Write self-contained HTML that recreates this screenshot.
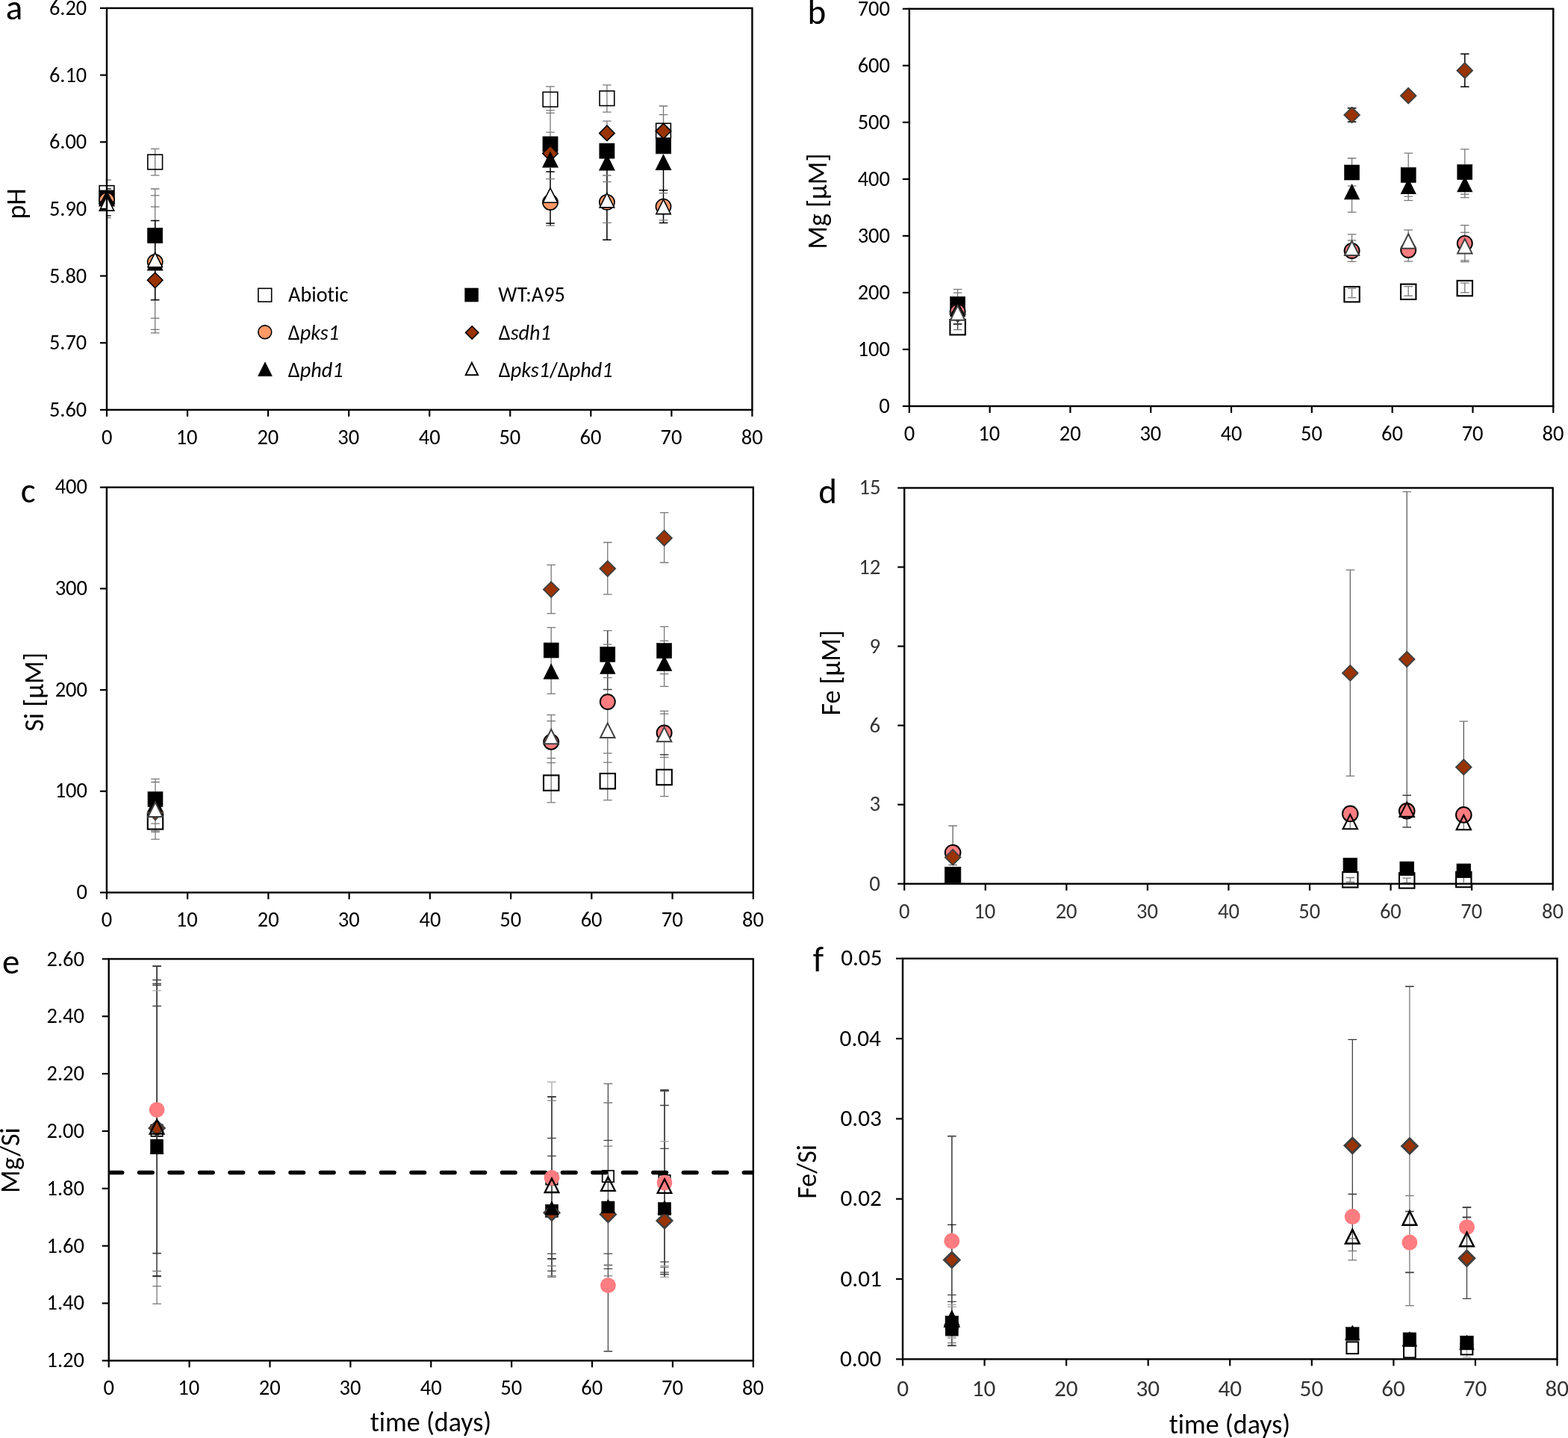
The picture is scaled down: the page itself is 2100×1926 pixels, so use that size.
<!DOCTYPE html>
<html><head><meta charset="utf-8"><title>Figure</title>
<style>html,body{margin:0;padding:0;background:#fff;}svg{display:block;}
text{font-family:Carlito, 'Liberation Sans', Arial, sans-serif;font-variant-ligatures:none;font-feature-settings:'liga' 0,'clig' 0;}</style></head>
<body><svg width="2100" height="1926" viewBox="0 0 2100 1926">
<rect width="2100" height="1926" fill="#fff"/>
<clipPath id="clipa"><rect x="143" y="10.9" width="864.4" height="538"/></clipPath>
<g clip-path="url(#clipa)" stroke-linecap="butt">
<line x1="137.2" y1="241" x2="148.8" y2="241" stroke="#787878" stroke-width="1.3" />
<line x1="137.2" y1="252.9" x2="148.8" y2="252.9" stroke="#000" stroke-width="1.3" />
<line x1="137.2" y1="288.9" x2="148.8" y2="288.9" stroke="#000" stroke-width="1.3" />
<line x1="137.2" y1="291.7" x2="148.8" y2="291.7" stroke="#787878" stroke-width="1.3" />
<line x1="207.7" y1="199.4" x2="207.7" y2="234.8" stroke="#787878" stroke-width="1.3" />
<line x1="207.7" y1="253" x2="207.7" y2="445.9" stroke="#787878" stroke-width="1.3" />
<line x1="207.7" y1="295.5" x2="207.7" y2="401.7" stroke="#000" stroke-width="1.5" />
<line x1="201.9" y1="199.4" x2="213.5" y2="199.4" stroke="#787878" stroke-width="1.3" />
<line x1="201.9" y1="234.8" x2="213.5" y2="234.8" stroke="#787878" stroke-width="1.3" />
<line x1="201.9" y1="253" x2="213.5" y2="253" stroke="#787878" stroke-width="1.3" />
<line x1="201.9" y1="261.8" x2="213.5" y2="261.8" stroke="#787878" stroke-width="1.3" />
<line x1="201.9" y1="277" x2="213.5" y2="277" stroke="#787878" stroke-width="1.3" />
<line x1="201.9" y1="426.2" x2="213.5" y2="426.2" stroke="#787878" stroke-width="1.3" />
<line x1="201.9" y1="441.4" x2="213.5" y2="441.4" stroke="#787878" stroke-width="1.3" />
<line x1="201.9" y1="445.9" x2="213.5" y2="445.9" stroke="#787878" stroke-width="1.3" />
<line x1="201.9" y1="295.5" x2="213.5" y2="295.5" stroke="#000" stroke-width="1.5" />
<line x1="201.9" y1="401.7" x2="213.5" y2="401.7" stroke="#000" stroke-width="1.5" />
<line x1="737" y1="115.8" x2="737" y2="185" stroke="#787878" stroke-width="1.3" />
<line x1="737" y1="224.8" x2="737" y2="302.2" stroke="#000" stroke-width="1.5" />
<line x1="731.2" y1="115.8" x2="742.8" y2="115.8" stroke="#787878" stroke-width="1.3" />
<line x1="731.2" y1="147.9" x2="742.8" y2="147.9" stroke="#787878" stroke-width="1.3" />
<line x1="731.2" y1="151.4" x2="742.8" y2="151.4" stroke="#787878" stroke-width="1.3" />
<line x1="731.2" y1="177.1" x2="742.8" y2="177.1" stroke="#787878" stroke-width="1.3" />
<line x1="731.2" y1="302.2" x2="742.8" y2="302.2" stroke="#787878" stroke-width="1.3" />
<line x1="731.2" y1="230" x2="742.8" y2="230" stroke="#000" stroke-width="1.5" />
<line x1="731.2" y1="239.7" x2="742.8" y2="239.7" stroke="#787878" stroke-width="1.3" />
<line x1="731.2" y1="299.1" x2="742.8" y2="299.1" stroke="#000" stroke-width="1.5" />
<line x1="812.9" y1="113.9" x2="812.9" y2="150.1" stroke="#787878" stroke-width="1.3" />
<line x1="812.9" y1="162.2" x2="812.9" y2="172" stroke="#787878" stroke-width="1.3" />
<line x1="812.9" y1="227.9" x2="812.9" y2="321.3" stroke="#000" stroke-width="1.5" />
<line x1="807.1" y1="113.9" x2="818.7" y2="113.9" stroke="#787878" stroke-width="1.3" />
<line x1="807.1" y1="150.1" x2="818.7" y2="150.1" stroke="#787878" stroke-width="1.3" />
<line x1="807.1" y1="162.2" x2="818.7" y2="162.2" stroke="#787878" stroke-width="1.3" />
<line x1="807.1" y1="235" x2="818.7" y2="235" stroke="#787878" stroke-width="1.3" />
<line x1="807.1" y1="243.7" x2="818.7" y2="243.7" stroke="#787878" stroke-width="1.3" />
<line x1="807.1" y1="298.4" x2="818.7" y2="298.4" stroke="#787878" stroke-width="1.3" />
<line x1="807.1" y1="321.3" x2="818.7" y2="321.3" stroke="#000" stroke-width="1.5" />
<line x1="888.5" y1="142" x2="888.5" y2="166" stroke="#787878" stroke-width="1.3" />
<line x1="888.5" y1="227.9" x2="888.5" y2="298.4" stroke="#000" stroke-width="1.5" />
<line x1="882.7" y1="142" x2="894.3" y2="142" stroke="#787878" stroke-width="1.3" />
<line x1="882.7" y1="153.7" x2="894.3" y2="153.7" stroke="#787878" stroke-width="1.3" />
<line x1="882.7" y1="258.6" x2="894.3" y2="258.6" stroke="#787878" stroke-width="1.3" />
<line x1="882.7" y1="294.8" x2="894.3" y2="294.8" stroke="#787878" stroke-width="1.3" />
<line x1="882.7" y1="254.8" x2="894.3" y2="254.8" stroke="#000" stroke-width="1.5" />
<line x1="882.7" y1="298.4" x2="894.3" y2="298.4" stroke="#000" stroke-width="1.5" />
</g>
<rect x="133.15" y="248.65" width="19.7" height="19.7" fill="none" stroke="#000" stroke-width="1.6"/>
<rect x="133" y="255" width="20" height="20" fill="#000" stroke="#000" stroke-width="0.8"/>
<circle cx="143" cy="268" r="10.1" fill="#ff9966" stroke="#000" stroke-width="1.6"/>
<path d="M143 262.15L153.25 272.4L143 282.65L132.75 272.4Z" fill="#993300" stroke="#000" stroke-width="1.6"/>
<path d="M143 256.3L152.7 275.7L133.3 275.7Z" fill="#000" stroke="#000" stroke-width="1.6"/>
<path d="M143 262.7L152.7 282.1L133.3 282.1Z" fill="#fff" stroke="#000" stroke-width="1.6"/>
<rect x="197.85" y="207.15" width="19.7" height="19.7" fill="none" stroke="#000" stroke-width="1.6"/>
<rect x="197.7" y="305.4" width="20" height="20" fill="#000" stroke="#000" stroke-width="0.8"/>
<circle cx="207.7" cy="351" r="10.1" fill="#ff9966" stroke="#000" stroke-width="1.6"/>
<path d="M207.7 365.05L217.95 375.3L207.7 385.55L197.45 375.3Z" fill="#993300" stroke="#000" stroke-width="1.6"/>
<path d="M207.7 342.3L217.4 361.7L198 361.7Z" fill="#000" stroke="#000" stroke-width="1.6"/>
<path d="M207.7 338.3L217.4 357.7L198 357.7Z" fill="#fff" stroke="#000" stroke-width="1.6"/>
<rect x="727.15" y="123.35" width="19.7" height="19.7" fill="none" stroke="#000" stroke-width="1.6"/>
<rect x="727" y="183" width="20" height="20" fill="#000" stroke="#000" stroke-width="0.8"/>
<circle cx="737" cy="271" r="10.1" fill="#ff9966" stroke="#000" stroke-width="1.6"/>
<path d="M737 195.25L747.25 205.5L737 215.75L726.75 205.5Z" fill="#993300" stroke="#000" stroke-width="1.6"/>
<path d="M737 204.3L746.7 223.7L727.3 223.7Z" fill="#000" stroke="#000" stroke-width="1.6"/>
<path d="M737 251.8L746.7 271.2L727.3 271.2Z" fill="#fff" stroke="#000" stroke-width="1.6"/>
<rect x="803.05" y="121.85" width="19.7" height="19.7" fill="none" stroke="#000" stroke-width="1.6"/>
<rect x="802.9" y="192.1" width="20" height="20" fill="#000" stroke="#000" stroke-width="0.8"/>
<circle cx="812.9" cy="270.8" r="10.1" fill="#ff9966" stroke="#000" stroke-width="1.6"/>
<path d="M812.9 168.15L823.15 178.4L812.9 188.65L802.65 178.4Z" fill="#993300" stroke="#000" stroke-width="1.6"/>
<path d="M812.9 208.2L822.6 227.6L803.2 227.6Z" fill="#000" stroke="#000" stroke-width="1.6"/>
<path d="M812.9 258.5L822.6 277.9L803.2 277.9Z" fill="#fff" stroke="#000" stroke-width="1.6"/>
<rect x="878.65" y="165.25" width="19.7" height="19.7" fill="none" stroke="#000" stroke-width="1.6"/>
<rect x="878.5" y="185.8" width="20" height="20" fill="#000" stroke="#000" stroke-width="0.8"/>
<circle cx="888.5" cy="276.6" r="10.1" fill="#ff9966" stroke="#000" stroke-width="1.6"/>
<path d="M888.5 165.35L898.75 175.6L888.5 185.85L878.25 175.6Z" fill="#993300" stroke="#000" stroke-width="1.6"/>
<path d="M888.5 207.8L898.2 227.2L878.8 227.2Z" fill="#000" stroke="#000" stroke-width="1.6"/>
<path d="M888.5 267.2L898.2 286.6L878.8 286.6Z" fill="#fff" stroke="#000" stroke-width="1.6"/>
<rect x="143" y="10.9" width="864.4" height="538" fill="none" stroke="#000" stroke-width="2.4"/>
<line x1="134" y1="10.9" x2="143" y2="10.9" stroke="#000" stroke-width="2.2" />
<text x="65.9" y="20.06" font-size="28.4" fill="#000" textLength="50.35" lengthAdjust="spacingAndGlyphs" >6.20</text>
<line x1="134" y1="100.57" x2="143" y2="100.57" stroke="#000" stroke-width="2.2" />
<text x="65.9" y="109.72" font-size="28.4" fill="#000" textLength="50.35" lengthAdjust="spacingAndGlyphs" >6.10</text>
<line x1="134" y1="190.23" x2="143" y2="190.23" stroke="#000" stroke-width="2.2" />
<text x="65.9" y="199.39" font-size="28.4" fill="#000" textLength="50.35" lengthAdjust="spacingAndGlyphs" >6.00</text>
<line x1="134" y1="279.9" x2="143" y2="279.9" stroke="#000" stroke-width="2.2" />
<text x="65.9" y="288.63" font-size="28.4" fill="#000" textLength="50.35" lengthAdjust="spacingAndGlyphs" >5.90</text>
<line x1="134" y1="369.57" x2="143" y2="369.57" stroke="#000" stroke-width="2.2" />
<text x="65.9" y="378.72" font-size="28.4" fill="#000" textLength="50.35" lengthAdjust="spacingAndGlyphs" >5.80</text>
<line x1="134" y1="459.23" x2="143" y2="459.23" stroke="#000" stroke-width="2.2" />
<text x="65.9" y="467.96" font-size="28.4" fill="#000" textLength="50.35" lengthAdjust="spacingAndGlyphs" >5.70</text>
<line x1="134" y1="548.9" x2="143" y2="548.9" stroke="#000" stroke-width="2.2" />
<text x="65.9" y="558.06" font-size="28.4" fill="#000" textLength="50.35" lengthAdjust="spacingAndGlyphs" >5.60</text>
<line x1="143" y1="548.9" x2="143" y2="557.9" stroke="#000" stroke-width="2.2" />
<text x="135.88" y="595.1" font-size="28.5" fill="#000" textLength="14.45" lengthAdjust="spacingAndGlyphs" >0</text>
<line x1="251.05" y1="548.9" x2="251.05" y2="557.9" stroke="#000" stroke-width="2.2" />
<text x="235.66" y="595.1" font-size="28.5" fill="#000" textLength="28.89" lengthAdjust="spacingAndGlyphs" >10</text>
<line x1="359.1" y1="548.9" x2="359.1" y2="557.9" stroke="#000" stroke-width="2.2" />
<text x="344.42" y="595.1" font-size="28.5" fill="#000" textLength="28.89" lengthAdjust="spacingAndGlyphs" >20</text>
<line x1="467.15" y1="548.9" x2="467.15" y2="557.9" stroke="#000" stroke-width="2.2" />
<text x="452.33" y="595.1" font-size="28.5" fill="#000" textLength="28.89" lengthAdjust="spacingAndGlyphs" >30</text>
<line x1="575.2" y1="548.9" x2="575.2" y2="557.9" stroke="#000" stroke-width="2.2" />
<text x="560.81" y="595.1" font-size="28.5" fill="#000" textLength="28.89" lengthAdjust="spacingAndGlyphs" >40</text>
<line x1="683.25" y1="548.9" x2="683.25" y2="557.9" stroke="#000" stroke-width="2.2" />
<text x="668.43" y="595.1" font-size="28.5" fill="#000" textLength="28.89" lengthAdjust="spacingAndGlyphs" >50</text>
<line x1="791.3" y1="548.9" x2="791.3" y2="557.9" stroke="#000" stroke-width="2.2" />
<text x="776.62" y="595.1" font-size="28.5" fill="#000" textLength="28.89" lengthAdjust="spacingAndGlyphs" >60</text>
<line x1="899.35" y1="548.9" x2="899.35" y2="557.9" stroke="#000" stroke-width="2.2" />
<text x="884.53" y="595.1" font-size="28.5" fill="#000" textLength="28.89" lengthAdjust="spacingAndGlyphs" >70</text>
<line x1="1007.4" y1="548.9" x2="1007.4" y2="557.9" stroke="#000" stroke-width="2.2" />
<text x="992.72" y="595.1" font-size="28.5" fill="#000" textLength="28.89" lengthAdjust="spacingAndGlyphs" >80</text>
<text x="33.6" y="293.55" transform="rotate(-90 33.6 293.55)" font-size="36" fill="#000" textLength="41.34" lengthAdjust="spacingAndGlyphs" >pH</text>
<text x="7.72" y="26.3" font-size="47" fill="#000" textLength="22.52" lengthAdjust="spacingAndGlyphs" >a</text>
<clipPath id="clipb"><rect x="1217.8" y="11.8" width="862.5" height="532.2"/></clipPath>
<g clip-path="url(#clipb)" stroke-linecap="butt">
<line x1="1282.6" y1="387.5" x2="1282.6" y2="400" stroke="#787878" stroke-width="1.3" />
<line x1="1282.6" y1="430" x2="1282.6" y2="442" stroke="#404040" stroke-width="1.5" />
<line x1="1276.8" y1="387.5" x2="1288.4" y2="387.5" stroke="#787878" stroke-width="1.3" />
<line x1="1276.8" y1="392.2" x2="1288.4" y2="392.2" stroke="#787878" stroke-width="1.3" />
<line x1="1276.8" y1="441.6" x2="1288.4" y2="441.6" stroke="#787878" stroke-width="1.3" />
<line x1="1276.8" y1="434.1" x2="1288.4" y2="434.1" stroke="#404040" stroke-width="2.2" />
<line x1="1810.6" y1="144.7" x2="1810.6" y2="163.2" stroke="#000" stroke-width="1.5" />
<line x1="1810.6" y1="212" x2="1810.6" y2="222" stroke="#787878" stroke-width="1.3" />
<line x1="1810.6" y1="267.5" x2="1810.6" y2="284.2" stroke="#787878" stroke-width="1.3" />
<line x1="1810.6" y1="313.9" x2="1810.6" y2="325" stroke="#787878" stroke-width="1.3" />
<line x1="1810.6" y1="343" x2="1810.6" y2="350.4" stroke="#787878" stroke-width="1.3" />
<line x1="1810.6" y1="386.3" x2="1810.6" y2="398.8" stroke="#787878" stroke-width="1.3" />
<line x1="1804.8" y1="144.7" x2="1816.4" y2="144.7" stroke="#000" stroke-width="1.6" />
<line x1="1804.8" y1="163.2" x2="1816.4" y2="163.2" stroke="#000" stroke-width="1.6" />
<line x1="1804.8" y1="212" x2="1816.4" y2="212" stroke="#787878" stroke-width="1.3" />
<line x1="1804.8" y1="249.2" x2="1816.4" y2="249.2" stroke="#787878" stroke-width="1.3" />
<line x1="1804.8" y1="284.2" x2="1816.4" y2="284.2" stroke="#787878" stroke-width="1.3" />
<line x1="1804.8" y1="313.9" x2="1816.4" y2="313.9" stroke="#787878" stroke-width="1.3" />
<line x1="1804.8" y1="321.9" x2="1816.4" y2="321.9" stroke="#787878" stroke-width="1.3" />
<line x1="1804.8" y1="350.4" x2="1816.4" y2="350.4" stroke="#787878" stroke-width="1.3" />
<line x1="1804.8" y1="386.3" x2="1816.4" y2="386.3" stroke="#787878" stroke-width="1.3" />
<line x1="1804.8" y1="398.8" x2="1816.4" y2="398.8" stroke="#787878" stroke-width="1.3" />
<line x1="1886.2" y1="205.2" x2="1886.2" y2="224" stroke="#787878" stroke-width="1.3" />
<line x1="1886.2" y1="260" x2="1886.2" y2="268.5" stroke="#787878" stroke-width="1.3" />
<line x1="1886.2" y1="308" x2="1886.2" y2="313" stroke="#787878" stroke-width="1.3" />
<line x1="1886.2" y1="345" x2="1886.2" y2="350.1" stroke="#787878" stroke-width="1.3" />
<line x1="1886.2" y1="383.7" x2="1886.2" y2="396.2" stroke="#787878" stroke-width="1.3" />
<line x1="1880.4" y1="205.2" x2="1892" y2="205.2" stroke="#787878" stroke-width="1.3" />
<line x1="1880.4" y1="263.2" x2="1892" y2="263.2" stroke="#787878" stroke-width="1.3" />
<line x1="1880.4" y1="268.5" x2="1892" y2="268.5" stroke="#787878" stroke-width="1.3" />
<line x1="1880.4" y1="308" x2="1892" y2="308" stroke="#787878" stroke-width="1.3" />
<line x1="1880.4" y1="350.1" x2="1892" y2="350.1" stroke="#787878" stroke-width="1.3" />
<line x1="1880.4" y1="383.7" x2="1892" y2="383.7" stroke="#787878" stroke-width="1.3" />
<line x1="1880.4" y1="396.2" x2="1892" y2="396.2" stroke="#787878" stroke-width="1.3" />
<line x1="1961.8" y1="72.3" x2="1961.8" y2="116.3" stroke="#000" stroke-width="1.5" />
<line x1="1961.8" y1="199.8" x2="1961.8" y2="220" stroke="#787878" stroke-width="1.3" />
<line x1="1961.8" y1="257" x2="1961.8" y2="264.6" stroke="#787878" stroke-width="1.3" />
<line x1="1961.8" y1="301.7" x2="1961.8" y2="316" stroke="#787878" stroke-width="1.3" />
<line x1="1961.8" y1="340" x2="1961.8" y2="350.7" stroke="#787878" stroke-width="1.3" />
<line x1="1961.8" y1="379" x2="1961.8" y2="391.9" stroke="#787878" stroke-width="1.3" />
<line x1="1956" y1="72.3" x2="1967.6" y2="72.3" stroke="#000" stroke-width="1.6" />
<line x1="1956" y1="116.3" x2="1967.6" y2="116.3" stroke="#000" stroke-width="1.6" />
<line x1="1956" y1="199.8" x2="1967.6" y2="199.8" stroke="#787878" stroke-width="1.3" />
<line x1="1956" y1="260.2" x2="1967.6" y2="260.2" stroke="#787878" stroke-width="1.3" />
<line x1="1956" y1="264.6" x2="1967.6" y2="264.6" stroke="#787878" stroke-width="1.3" />
<line x1="1956" y1="301.7" x2="1967.6" y2="301.7" stroke="#787878" stroke-width="1.3" />
<line x1="1956" y1="311.3" x2="1967.6" y2="311.3" stroke="#787878" stroke-width="1.3" />
<line x1="1956" y1="348.8" x2="1967.6" y2="348.8" stroke="#787878" stroke-width="1.3" />
<line x1="1956" y1="350.7" x2="1967.6" y2="350.7" stroke="#787878" stroke-width="1.3" />
<line x1="1956" y1="379" x2="1967.6" y2="379" stroke="#787878" stroke-width="1.3" />
<line x1="1956" y1="391.9" x2="1967.6" y2="391.9" stroke="#787878" stroke-width="1.3" />
</g>
<rect x="1272.4" y="428" width="20.4" height="20.4" fill="none" stroke="#000" stroke-width="2.1"/>
<rect x="1272.6" y="397.3" width="20" height="20" fill="#000" stroke="#000" stroke-width="0.6"/>
<circle cx="1282.6" cy="417.5" r="10" fill="#ff7c80" stroke="#000" stroke-width="1.9"/>
<path d="M1282.6 410.75L1292.85 421L1282.6 431.25L1272.35 421Z" fill="#993300" stroke="#404040" stroke-width="1.9"/>
<path d="M1282.6 404.3L1292.3 423.7L1272.9 423.7Z" fill="#000" stroke="#000" stroke-width="1.2"/>
<path d="M1282.6 409.4L1292.3 428.8L1272.9 428.8Z" fill="#fff" stroke="#404040" stroke-width="2"/>
<rect x="1800.4" y="384" width="20.4" height="20.4" fill="none" stroke="#000" stroke-width="2.1"/>
<rect x="1800.6" y="221" width="20" height="20" fill="#000" stroke="#000" stroke-width="0.6"/>
<circle cx="1810.6" cy="336" r="10" fill="#ff7c80" stroke="#000" stroke-width="1.9"/>
<path d="M1810.6 143.75L1820.85 154L1810.6 164.25L1800.35 154Z" fill="#993300" stroke="#404040" stroke-width="1.9"/>
<path d="M1810.6 247.3L1820.3 266.7L1800.9 266.7Z" fill="#000" stroke="#000" stroke-width="1.2"/>
<path d="M1810.6 322.7L1820.3 342.1L1800.9 342.1Z" fill="#fff" stroke="#404040" stroke-width="2"/>
<rect x="1876" y="380.6" width="20.4" height="20.4" fill="none" stroke="#000" stroke-width="2.1"/>
<rect x="1876.2" y="224.4" width="20" height="20" fill="#000" stroke="#000" stroke-width="0.6"/>
<circle cx="1886.2" cy="335" r="10" fill="#ff7c80" stroke="#000" stroke-width="1.9"/>
<path d="M1886.2 117.95L1896.45 128.2L1886.2 138.45L1875.95 128.2Z" fill="#993300" stroke="#404040" stroke-width="1.9"/>
<path d="M1886.2 240.1L1895.9 259.5L1876.5 259.5Z" fill="#000" stroke="#000" stroke-width="1.2"/>
<path d="M1886.2 313.3L1895.9 332.7L1876.5 332.7Z" fill="#fff" stroke="#404040" stroke-width="2"/>
<rect x="1951.6" y="375.9" width="20.4" height="20.4" fill="none" stroke="#000" stroke-width="2.1"/>
<rect x="1951.8" y="220.5" width="20" height="20" fill="#000" stroke="#000" stroke-width="0.6"/>
<circle cx="1961.8" cy="325.9" r="10" fill="#ff7c80" stroke="#000" stroke-width="1.9"/>
<path d="M1961.8 84.15L1972.05 94.4L1961.8 104.65L1951.55 94.4Z" fill="#993300" stroke="#404040" stroke-width="1.9"/>
<path d="M1961.8 237.3L1971.5 256.7L1952.1 256.7Z" fill="#000" stroke="#000" stroke-width="1.2"/>
<path d="M1961.8 320L1971.5 339.4L1952.1 339.4Z" fill="#fff" stroke="#404040" stroke-width="2"/>
<rect x="1217.8" y="11.8" width="862.5" height="532.2" fill="none" stroke="#000" stroke-width="2.4"/>
<line x1="1208.8" y1="11.8" x2="1217.8" y2="11.8" stroke="#000" stroke-width="2.2" />
<text x="1148.68" y="20.53" font-size="28.4" fill="#000" textLength="43.19" lengthAdjust="spacingAndGlyphs" >700</text>
<line x1="1208.8" y1="87.83" x2="1217.8" y2="87.83" stroke="#000" stroke-width="2.2" />
<text x="1148.68" y="96.98" font-size="28.4" fill="#000" textLength="43.19" lengthAdjust="spacingAndGlyphs" >600</text>
<line x1="1208.8" y1="163.86" x2="1217.8" y2="163.86" stroke="#000" stroke-width="2.2" />
<text x="1148.68" y="172.59" font-size="28.4" fill="#000" textLength="43.19" lengthAdjust="spacingAndGlyphs" >500</text>
<line x1="1208.8" y1="239.89" x2="1217.8" y2="239.89" stroke="#000" stroke-width="2.2" />
<text x="1148.68" y="248.62" font-size="28.4" fill="#000" textLength="43.19" lengthAdjust="spacingAndGlyphs" >400</text>
<line x1="1208.8" y1="315.91" x2="1217.8" y2="315.91" stroke="#000" stroke-width="2.2" />
<text x="1148.68" y="324.64" font-size="28.4" fill="#000" textLength="43.19" lengthAdjust="spacingAndGlyphs" >300</text>
<line x1="1208.8" y1="391.94" x2="1217.8" y2="391.94" stroke="#000" stroke-width="2.2" />
<text x="1148.68" y="400.67" font-size="28.4" fill="#000" textLength="43.19" lengthAdjust="spacingAndGlyphs" >200</text>
<line x1="1208.8" y1="467.97" x2="1217.8" y2="467.97" stroke="#000" stroke-width="2.2" />
<text x="1148.68" y="476.7" font-size="28.4" fill="#000" textLength="43.19" lengthAdjust="spacingAndGlyphs" >100</text>
<line x1="1208.8" y1="544" x2="1217.8" y2="544" stroke="#000" stroke-width="2.2" />
<text x="1177.37" y="552.73" font-size="28.4" fill="#000" textLength="14.4" lengthAdjust="spacingAndGlyphs" >0</text>
<line x1="1217.8" y1="544" x2="1217.8" y2="553" stroke="#000" stroke-width="2.2" />
<text x="1210.67" y="590" font-size="28.5" fill="#000" textLength="14.45" lengthAdjust="spacingAndGlyphs" >0</text>
<line x1="1325.61" y1="544" x2="1325.61" y2="553" stroke="#000" stroke-width="2.2" />
<text x="1310.22" y="590" font-size="28.5" fill="#000" textLength="28.89" lengthAdjust="spacingAndGlyphs" >10</text>
<line x1="1433.42" y1="544" x2="1433.42" y2="553" stroke="#000" stroke-width="2.2" />
<text x="1418.75" y="590" font-size="28.5" fill="#000" textLength="28.89" lengthAdjust="spacingAndGlyphs" >20</text>
<line x1="1541.24" y1="544" x2="1541.24" y2="553" stroke="#000" stroke-width="2.2" />
<text x="1526.42" y="590" font-size="28.5" fill="#000" textLength="28.89" lengthAdjust="spacingAndGlyphs" >30</text>
<line x1="1649.05" y1="544" x2="1649.05" y2="553" stroke="#000" stroke-width="2.2" />
<text x="1634.66" y="590" font-size="28.5" fill="#000" textLength="28.89" lengthAdjust="spacingAndGlyphs" >40</text>
<line x1="1756.86" y1="544" x2="1756.86" y2="553" stroke="#000" stroke-width="2.2" />
<text x="1742.04" y="590" font-size="28.5" fill="#000" textLength="28.89" lengthAdjust="spacingAndGlyphs" >50</text>
<line x1="1864.68" y1="544" x2="1864.68" y2="553" stroke="#000" stroke-width="2.2" />
<text x="1850" y="590" font-size="28.5" fill="#000" textLength="28.89" lengthAdjust="spacingAndGlyphs" >60</text>
<line x1="1972.49" y1="544" x2="1972.49" y2="553" stroke="#000" stroke-width="2.2" />
<text x="1957.67" y="590" font-size="28.5" fill="#000" textLength="28.89" lengthAdjust="spacingAndGlyphs" >70</text>
<line x1="2080.3" y1="544" x2="2080.3" y2="553" stroke="#000" stroke-width="2.2" />
<text x="2065.62" y="590" font-size="28.5" fill="#000" textLength="28.89" lengthAdjust="spacingAndGlyphs" >80</text>
<text x="1106.8" y="333.86" transform="rotate(-90 1106.8 333.86)" font-size="36" fill="#000" textLength="128.51" lengthAdjust="spacingAndGlyphs" >Mg [µM]</text>
<text x="1081.41" y="32.3" font-size="47" fill="#000" textLength="24.7" lengthAdjust="spacingAndGlyphs" >b</text>
<clipPath id="clipc"><rect x="142.9" y="652.7" width="865.9" height="542.7"/></clipPath>
<g clip-path="url(#clipc)" stroke-linecap="butt">
<line x1="208" y1="1043.4" x2="208" y2="1060" stroke="#787878" stroke-width="1.3" />
<line x1="208" y1="1095" x2="208" y2="1124.2" stroke="#787878" stroke-width="1.3" />
<line x1="202.2" y1="1043.4" x2="213.8" y2="1043.4" stroke="#787878" stroke-width="1.3" />
<line x1="202.2" y1="1047.5" x2="213.8" y2="1047.5" stroke="#787878" stroke-width="1.3" />
<line x1="202.2" y1="1103.1" x2="213.8" y2="1103.1" stroke="#787878" stroke-width="1.3" />
<line x1="202.2" y1="1112.8" x2="213.8" y2="1112.8" stroke="#787878" stroke-width="1.3" />
<line x1="202.2" y1="1114.4" x2="213.8" y2="1114.4" stroke="#787878" stroke-width="1.3" />
<line x1="202.2" y1="1124.2" x2="213.8" y2="1124.2" stroke="#787878" stroke-width="1.3" />
<line x1="738.2" y1="756.7" x2="738.2" y2="821.7" stroke="#787878" stroke-width="1.3" />
<line x1="738.2" y1="840.5" x2="738.2" y2="929.2" stroke="#787878" stroke-width="1.3" />
<line x1="738.2" y1="957.5" x2="738.2" y2="1074.8" stroke="#787878" stroke-width="1.3" />
<line x1="732.4" y1="756.7" x2="744" y2="756.7" stroke="#787878" stroke-width="1.3" />
<line x1="732.4" y1="821.7" x2="744" y2="821.7" stroke="#787878" stroke-width="1.3" />
<line x1="732.4" y1="840.5" x2="744" y2="840.5" stroke="#787878" stroke-width="1.3" />
<line x1="732.4" y1="929.2" x2="744" y2="929.2" stroke="#787878" stroke-width="1.3" />
<line x1="732.4" y1="957.5" x2="744" y2="957.5" stroke="#787878" stroke-width="1.3" />
<line x1="732.4" y1="965.7" x2="744" y2="965.7" stroke="#787878" stroke-width="1.3" />
<line x1="732.4" y1="1015.5" x2="744" y2="1015.5" stroke="#787878" stroke-width="1.3" />
<line x1="732.4" y1="1021.7" x2="744" y2="1021.7" stroke="#787878" stroke-width="1.3" />
<line x1="732.4" y1="1074.8" x2="744" y2="1074.8" stroke="#787878" stroke-width="1.3" />
<line x1="813.8" y1="726.5" x2="813.8" y2="796.1" stroke="#787878" stroke-width="1.3" />
<line x1="813.8" y1="844.7" x2="813.8" y2="923.5" stroke="#404040" stroke-width="1.5" />
<line x1="813.8" y1="923.5" x2="813.8" y2="1071.7" stroke="#787878" stroke-width="1.3" />
<line x1="808" y1="726.5" x2="819.6" y2="726.5" stroke="#787878" stroke-width="1.3" />
<line x1="808" y1="796.1" x2="819.6" y2="796.1" stroke="#787878" stroke-width="1.3" />
<line x1="808" y1="844.7" x2="819.6" y2="844.7" stroke="#787878" stroke-width="1.3" />
<line x1="808" y1="863.2" x2="819.6" y2="863.2" stroke="#787878" stroke-width="1.3" />
<line x1="808" y1="907.7" x2="819.6" y2="907.7" stroke="#787878" stroke-width="1.3" />
<line x1="808" y1="923.5" x2="819.6" y2="923.5" stroke="#404040" stroke-width="1.3" />
<line x1="808" y1="1008.9" x2="819.6" y2="1008.9" stroke="#787878" stroke-width="1.3" />
<line x1="808" y1="1021.1" x2="819.6" y2="1021.1" stroke="#787878" stroke-width="1.3" />
<line x1="808" y1="1071.7" x2="819.6" y2="1071.7" stroke="#787878" stroke-width="1.3" />
<line x1="889.6" y1="686.7" x2="889.6" y2="753.5" stroke="#787878" stroke-width="1.3" />
<line x1="889.6" y1="839.3" x2="889.6" y2="919.3" stroke="#787878" stroke-width="1.3" />
<line x1="889.6" y1="952.4" x2="889.6" y2="1067" stroke="#787878" stroke-width="1.3" />
<line x1="883.8" y1="686.7" x2="895.4" y2="686.7" stroke="#787878" stroke-width="1.3" />
<line x1="883.8" y1="753.5" x2="895.4" y2="753.5" stroke="#787878" stroke-width="1.3" />
<line x1="883.8" y1="839.3" x2="895.4" y2="839.3" stroke="#787878" stroke-width="1.3" />
<line x1="883.8" y1="858.3" x2="895.4" y2="858.3" stroke="#787878" stroke-width="1.3" />
<line x1="883.8" y1="902.6" x2="895.4" y2="902.6" stroke="#787878" stroke-width="1.3" />
<line x1="883.8" y1="919.3" x2="895.4" y2="919.3" stroke="#787878" stroke-width="1.3" />
<line x1="883.8" y1="952.4" x2="895.4" y2="952.4" stroke="#787878" stroke-width="1.3" />
<line x1="883.8" y1="956.2" x2="895.4" y2="956.2" stroke="#787878" stroke-width="1.3" />
<line x1="883.8" y1="1010.7" x2="895.4" y2="1010.7" stroke="#404040" stroke-width="1.6" />
<line x1="883.8" y1="1014.3" x2="895.4" y2="1014.3" stroke="#787878" stroke-width="1.3" />
<line x1="883.8" y1="1066.7" x2="895.4" y2="1066.7" stroke="#787878" stroke-width="1.3" />
</g>
<rect x="197.8" y="1090.2" width="20.4" height="20.4" fill="none" stroke="#000" stroke-width="2.1"/>
<rect x="198" y="1060.4" width="20" height="20" fill="#000" stroke="#000" stroke-width="0.6"/>
<path d="M208 1077.75L218.25 1088L208 1098.25L197.75 1088Z" fill="#993300" stroke="#404040" stroke-width="1.9"/>
<path d="M208 1067.3L217.7 1086.7L198.3 1086.7Z" fill="#000" stroke="#000" stroke-width="1.2"/>
<path d="M208 1074.6L217.7 1094L198.3 1094Z" fill="#fff" stroke="#404040" stroke-width="2"/>
<rect x="728" y="1038.4" width="20.4" height="20.4" fill="none" stroke="#000" stroke-width="2.1"/>
<rect x="728.2" y="861" width="20" height="20" fill="#000" stroke="#000" stroke-width="0.6"/>
<circle cx="738.2" cy="993.7" r="10" fill="#ff7c80" stroke="#000" stroke-width="1.9"/>
<path d="M738.2 779.35L748.45 789.6L738.2 799.85L727.95 789.6Z" fill="#993300" stroke="#404040" stroke-width="1.9"/>
<path d="M738.2 889.7L747.9 909.1L728.5 909.1Z" fill="#000" stroke="#000" stroke-width="1.2"/>
<path d="M738.2 976.8L747.9 996.2L728.5 996.2Z" fill="#fff" stroke="#404040" stroke-width="2"/>
<rect x="803.6" y="1036" width="20.4" height="20.4" fill="none" stroke="#000" stroke-width="2.1"/>
<rect x="803.8" y="866.5" width="20" height="20" fill="#000" stroke="#000" stroke-width="0.6"/>
<circle cx="813.8" cy="940" r="10" fill="#ff7c80" stroke="#000" stroke-width="1.9"/>
<path d="M813.8 751.35L824.05 761.6L813.8 771.85L803.55 761.6Z" fill="#993300" stroke="#404040" stroke-width="1.9"/>
<path d="M813.8 882.8L823.5 902.2L804.1 902.2Z" fill="#000" stroke="#000" stroke-width="1.2"/>
<path d="M813.8 968.6L823.5 988L804.1 988Z" fill="#fff" stroke="#404040" stroke-width="2"/>
<rect x="879.4" y="1030.8" width="20.4" height="20.4" fill="none" stroke="#000" stroke-width="2.1"/>
<rect x="879.6" y="861.6" width="20" height="20" fill="#000" stroke="#000" stroke-width="0.6"/>
<circle cx="889.6" cy="981.5" r="10" fill="#ff7c80" stroke="#000" stroke-width="1.9"/>
<path d="M889.6 710.45L899.85 720.7L889.6 730.95L879.35 720.7Z" fill="#993300" stroke="#404040" stroke-width="1.9"/>
<path d="M889.6 878.8L899.3 898.2L879.9 898.2Z" fill="#000" stroke="#000" stroke-width="1.2"/>
<path d="M889.6 973.9L899.3 993.3L879.9 993.3Z" fill="#fff" stroke="#404040" stroke-width="2"/>
<rect x="142.9" y="652.7" width="865.9" height="542.7" fill="none" stroke="#000" stroke-width="2.4"/>
<line x1="133.9" y1="652.7" x2="142.9" y2="652.7" stroke="#000" stroke-width="2.2" />
<text x="73.63" y="661.46" font-size="28.5" fill="#000" textLength="43.34" lengthAdjust="spacingAndGlyphs" >400</text>
<line x1="133.9" y1="788.38" x2="142.9" y2="788.38" stroke="#000" stroke-width="2.2" />
<text x="73.63" y="797.14" font-size="28.5" fill="#000" textLength="43.34" lengthAdjust="spacingAndGlyphs" >300</text>
<line x1="133.9" y1="924.05" x2="142.9" y2="924.05" stroke="#000" stroke-width="2.2" />
<text x="73.63" y="932.81" font-size="28.5" fill="#000" textLength="43.34" lengthAdjust="spacingAndGlyphs" >200</text>
<line x1="133.9" y1="1059.73" x2="142.9" y2="1059.73" stroke="#000" stroke-width="2.2" />
<text x="73.63" y="1068.49" font-size="28.5" fill="#000" textLength="43.34" lengthAdjust="spacingAndGlyphs" >100</text>
<line x1="133.9" y1="1195.4" x2="142.9" y2="1195.4" stroke="#000" stroke-width="2.2" />
<text x="102.42" y="1204.16" font-size="28.5" fill="#000" textLength="14.45" lengthAdjust="spacingAndGlyphs" >0</text>
<line x1="142.9" y1="1195.4" x2="142.9" y2="1204.4" stroke="#000" stroke-width="2.2" />
<text x="135.78" y="1241.4" font-size="28.5" fill="#000" textLength="14.45" lengthAdjust="spacingAndGlyphs" >0</text>
<line x1="251.14" y1="1195.4" x2="251.14" y2="1204.4" stroke="#000" stroke-width="2.2" />
<text x="235.75" y="1241.4" font-size="28.5" fill="#000" textLength="28.89" lengthAdjust="spacingAndGlyphs" >10</text>
<line x1="359.38" y1="1195.4" x2="359.38" y2="1204.4" stroke="#000" stroke-width="2.2" />
<text x="344.7" y="1241.4" font-size="28.5" fill="#000" textLength="28.89" lengthAdjust="spacingAndGlyphs" >20</text>
<line x1="467.61" y1="1195.4" x2="467.61" y2="1204.4" stroke="#000" stroke-width="2.2" />
<text x="452.79" y="1241.4" font-size="28.5" fill="#000" textLength="28.89" lengthAdjust="spacingAndGlyphs" >30</text>
<line x1="575.85" y1="1195.4" x2="575.85" y2="1204.4" stroke="#000" stroke-width="2.2" />
<text x="561.46" y="1241.4" font-size="28.5" fill="#000" textLength="28.89" lengthAdjust="spacingAndGlyphs" >40</text>
<line x1="684.09" y1="1195.4" x2="684.09" y2="1204.4" stroke="#000" stroke-width="2.2" />
<text x="669.27" y="1241.4" font-size="28.5" fill="#000" textLength="28.89" lengthAdjust="spacingAndGlyphs" >50</text>
<line x1="792.32" y1="1195.4" x2="792.32" y2="1204.4" stroke="#000" stroke-width="2.2" />
<text x="777.65" y="1241.4" font-size="28.5" fill="#000" textLength="28.89" lengthAdjust="spacingAndGlyphs" >60</text>
<line x1="900.56" y1="1195.4" x2="900.56" y2="1204.4" stroke="#000" stroke-width="2.2" />
<text x="885.74" y="1241.4" font-size="28.5" fill="#000" textLength="28.89" lengthAdjust="spacingAndGlyphs" >70</text>
<line x1="1008.8" y1="1195.4" x2="1008.8" y2="1204.4" stroke="#000" stroke-width="2.2" />
<text x="994.12" y="1241.4" font-size="28.5" fill="#000" textLength="28.89" lengthAdjust="spacingAndGlyphs" >80</text>
<text x="57.8" y="979.67" transform="rotate(-90 57.8 979.67)" font-size="36" fill="#000" textLength="105.59" lengthAdjust="spacingAndGlyphs" >Si [µM]</text>
<text x="27.69" y="672.6" font-size="47" fill="#000" textLength="19.88" lengthAdjust="spacingAndGlyphs" >c</text>
<clipPath id="clipd"><rect x="1211.2" y="653.5" width="868.5" height="530.2"/></clipPath>
<g clip-path="url(#clipd)" stroke-linecap="butt">
<line x1="1276.1" y1="1106" x2="1276.1" y2="1135" stroke="#787878" stroke-width="1.5" />
<line x1="1270.3" y1="1106" x2="1281.9" y2="1106" stroke="#787878" stroke-width="1.6" />
<line x1="1270.3" y1="1158.5" x2="1281.9" y2="1158.5" stroke="#787878" stroke-width="1.3" />
<line x1="1270.3" y1="1181.5" x2="1281.9" y2="1181.5" stroke="#a6a6a6" stroke-width="1.3" />
<line x1="1808.3" y1="763.4" x2="1808.3" y2="1039.3" stroke="#595959" stroke-width="1.2" />
<line x1="1808.3" y1="1101.5" x2="1808.3" y2="1109.3" stroke="#787878" stroke-width="1.3" />
<line x1="1808.3" y1="1175.5" x2="1808.3" y2="1181.5" stroke="#787878" stroke-width="1.3" />
<line x1="1802.5" y1="763.4" x2="1814.1" y2="763.4" stroke="#787878" stroke-width="1.3" />
<line x1="1802.5" y1="1039.3" x2="1814.1" y2="1039.3" stroke="#787878" stroke-width="1.3" />
<line x1="1802.5" y1="1175.5" x2="1814.1" y2="1175.5" stroke="#787878" stroke-width="1.3" />
<line x1="1802.5" y1="1181.5" x2="1814.1" y2="1181.5" stroke="#787878" stroke-width="1.3" />
<line x1="1884.2" y1="658.6" x2="1884.2" y2="1108" stroke="#4d4d4d" stroke-width="1.2" />
<line x1="1884.2" y1="1176.2" x2="1884.2" y2="1182.3" stroke="#787878" stroke-width="1.3" />
<line x1="1878.4" y1="658.6" x2="1890" y2="658.6" stroke="#787878" stroke-width="1.3" />
<line x1="1878.4" y1="1065.3" x2="1890" y2="1065.3" stroke="#404040" stroke-width="1.6" />
<line x1="1878.4" y1="1108" x2="1890" y2="1108" stroke="#404040" stroke-width="1.6" />
<line x1="1878.4" y1="1176.2" x2="1890" y2="1176.2" stroke="#787878" stroke-width="1.3" />
<line x1="1878.4" y1="1182.3" x2="1890" y2="1182.3" stroke="#787878" stroke-width="1.3" />
<line x1="1960.3" y1="966.1" x2="1960.3" y2="1090" stroke="#4d4d4d" stroke-width="1.2" />
<line x1="1960.3" y1="1102.5" x2="1960.3" y2="1111.9" stroke="#787878" stroke-width="1.3" />
<line x1="1960.3" y1="1168" x2="1960.3" y2="1182" stroke="#787878" stroke-width="1.3" />
<line x1="1954.5" y1="966.1" x2="1966.1" y2="966.1" stroke="#787878" stroke-width="1.3" />
</g>
<rect x="1265.4" y="1161.3" width="21.4" height="21.4" fill="#000" stroke="#000" stroke-width="0.8"/>
<circle cx="1276.1" cy="1142" r="10.3" fill="#ff7c80" stroke="#000" stroke-width="2"/>
<path d="M1276.1 1137.95L1286.35 1148.2L1276.1 1158.45L1265.85 1148.2Z" fill="#993300" stroke="#404040" stroke-width="1.9"/>
<rect x="1798.1" y="1168.1" width="20.4" height="20.4" fill="none" stroke="#000" stroke-width="2.1"/>
<rect x="1799.05" y="1149.25" width="18.5" height="18.5" fill="#000" stroke="#000" stroke-width="0.8"/>
<circle cx="1808.3" cy="1089.9" r="10.3" fill="#ff7c80" stroke="#000" stroke-width="2"/>
<path d="M1808.3 891.15L1818.55 901.4L1808.3 911.65L1798.05 901.4Z" fill="#993300" stroke="#404040" stroke-width="1.9"/>
<path d="M1808.3 1090.9L1818 1110.3L1798.6 1110.3Z" fill="none" stroke="#000" stroke-width="2.1"/>
<rect x="1874" y="1169.2" width="20.4" height="20.4" fill="none" stroke="#000" stroke-width="2.1"/>
<rect x="1874.95" y="1154.15" width="18.5" height="18.5" fill="#000" stroke="#000" stroke-width="0.8"/>
<circle cx="1884.2" cy="1086.3" r="10.3" fill="#ff7c80" stroke="#000" stroke-width="2"/>
<path d="M1884.2 872.75L1894.45 883L1884.2 893.25L1873.95 883Z" fill="#993300" stroke="#404040" stroke-width="1.9"/>
<path d="M1884.2 1074.5L1893.9 1093.9L1874.5 1093.9Z" fill="none" stroke="#000" stroke-width="2.1"/>
<rect x="1950.1" y="1167.8" width="20.4" height="20.4" fill="none" stroke="#000" stroke-width="2.1"/>
<rect x="1951.05" y="1157.05" width="18.5" height="18.5" fill="#000" stroke="#000" stroke-width="0.8"/>
<circle cx="1960.3" cy="1091.4" r="10.3" fill="#ff7c80" stroke="#000" stroke-width="2"/>
<path d="M1960.3 1017.25L1970.55 1027.5L1960.3 1037.75L1950.05 1027.5Z" fill="#993300" stroke="#404040" stroke-width="1.9"/>
<path d="M1960.3 1091.8L1970 1111.2L1950.6 1111.2Z" fill="none" stroke="#000" stroke-width="2.1"/>
<rect x="1211.2" y="653.5" width="868.5" height="530.2" fill="none" stroke="#000" stroke-width="2.4"/>
<line x1="1202.2" y1="653.5" x2="1211.2" y2="653.5" stroke="#000" stroke-width="2.2" />
<text x="1150.45" y="662.18" font-size="28.7" fill="#333" textLength="29.09" lengthAdjust="spacingAndGlyphs" >15</text>
<line x1="1202.2" y1="759.54" x2="1211.2" y2="759.54" stroke="#000" stroke-width="2.2" />
<text x="1150.16" y="768.51" font-size="28.7" fill="#333" textLength="29.09" lengthAdjust="spacingAndGlyphs" >12</text>
<line x1="1202.2" y1="865.58" x2="1211.2" y2="865.58" stroke="#000" stroke-width="2.2" />
<text x="1164.51" y="874.55" font-size="28.7" fill="#333" textLength="14.55" lengthAdjust="spacingAndGlyphs" >9</text>
<line x1="1202.2" y1="971.62" x2="1211.2" y2="971.62" stroke="#000" stroke-width="2.2" />
<text x="1164.51" y="980.88" font-size="28.7" fill="#333" textLength="14.55" lengthAdjust="spacingAndGlyphs" >6</text>
<line x1="1202.2" y1="1077.66" x2="1211.2" y2="1077.66" stroke="#000" stroke-width="2.2" />
<text x="1164.51" y="1086.49" font-size="28.7" fill="#333" textLength="14.55" lengthAdjust="spacingAndGlyphs" >3</text>
<line x1="1202.2" y1="1183.7" x2="1211.2" y2="1183.7" stroke="#000" stroke-width="2.2" />
<text x="1164.22" y="1192.53" font-size="28.7" fill="#333" textLength="14.55" lengthAdjust="spacingAndGlyphs" >0</text>
<line x1="1211.2" y1="1183.7" x2="1211.2" y2="1192.7" stroke="#000" stroke-width="2.2" />
<text x="1204.08" y="1229.7" font-size="28.5" fill="#333" textLength="14.45" lengthAdjust="spacingAndGlyphs" >0</text>
<line x1="1319.76" y1="1183.7" x2="1319.76" y2="1192.7" stroke="#000" stroke-width="2.2" />
<text x="1304.37" y="1229.7" font-size="28.5" fill="#333" textLength="28.89" lengthAdjust="spacingAndGlyphs" >10</text>
<line x1="1428.33" y1="1183.7" x2="1428.33" y2="1192.7" stroke="#000" stroke-width="2.2" />
<text x="1413.65" y="1229.7" font-size="28.5" fill="#333" textLength="28.89" lengthAdjust="spacingAndGlyphs" >20</text>
<line x1="1536.89" y1="1183.7" x2="1536.89" y2="1192.7" stroke="#000" stroke-width="2.2" />
<text x="1522.07" y="1229.7" font-size="28.5" fill="#333" textLength="28.89" lengthAdjust="spacingAndGlyphs" >30</text>
<line x1="1645.45" y1="1183.7" x2="1645.45" y2="1192.7" stroke="#000" stroke-width="2.2" />
<text x="1631.06" y="1229.7" font-size="28.5" fill="#333" textLength="28.89" lengthAdjust="spacingAndGlyphs" >40</text>
<line x1="1754.01" y1="1183.7" x2="1754.01" y2="1192.7" stroke="#000" stroke-width="2.2" />
<text x="1739.19" y="1229.7" font-size="28.5" fill="#333" textLength="28.89" lengthAdjust="spacingAndGlyphs" >50</text>
<line x1="1862.57" y1="1183.7" x2="1862.57" y2="1192.7" stroke="#000" stroke-width="2.2" />
<text x="1847.9" y="1229.7" font-size="28.5" fill="#333" textLength="28.89" lengthAdjust="spacingAndGlyphs" >60</text>
<line x1="1971.14" y1="1183.7" x2="1971.14" y2="1192.7" stroke="#000" stroke-width="2.2" />
<text x="1956.32" y="1229.7" font-size="28.5" fill="#333" textLength="28.89" lengthAdjust="spacingAndGlyphs" >70</text>
<line x1="2079.7" y1="1183.7" x2="2079.7" y2="1192.7" stroke="#000" stroke-width="2.2" />
<text x="2065.02" y="1229.7" font-size="28.5" fill="#333" textLength="28.89" lengthAdjust="spacingAndGlyphs" >80</text>
<text x="1124.8" y="958.59" transform="rotate(-90 1124.8 958.59)" font-size="36" fill="#000" textLength="114.72" lengthAdjust="spacingAndGlyphs" >Fe [µM]</text>
<text x="1096.22" y="674.1" font-size="47" fill="#000" textLength="24.7" lengthAdjust="spacingAndGlyphs" >d</text>
<clipPath id="clipe"><rect x="145.7" y="1284.4" width="863.1" height="538"/></clipPath>
<g clip-path="url(#clipe)" stroke-linecap="butt">
<line x1="210.1" y1="1294" x2="210.1" y2="1709.2" stroke="#404040" stroke-width="1.9" />
<line x1="210.1" y1="1680" x2="210.1" y2="1746.3" stroke="#787878" stroke-width="1.3" />
<line x1="204.3" y1="1294" x2="215.9" y2="1294" stroke="#404040" stroke-width="2" />
<line x1="204.3" y1="1312.5" x2="215.9" y2="1312.5" stroke="#404040" stroke-width="1.3" />
<line x1="204.3" y1="1317.5" x2="215.9" y2="1317.5" stroke="#404040" stroke-width="1.3" />
<line x1="204.3" y1="1319.5" x2="215.9" y2="1319.5" stroke="#404040" stroke-width="1.3" />
<line x1="204.3" y1="1326.8" x2="215.9" y2="1326.8" stroke="#a6a6a6" stroke-width="1.3" />
<line x1="204.3" y1="1347.5" x2="215.9" y2="1347.5" stroke="#404040" stroke-width="1.3" />
<line x1="204.3" y1="1678.6" x2="215.9" y2="1678.6" stroke="#404040" stroke-width="1.8" />
<line x1="204.3" y1="1702.5" x2="215.9" y2="1702.5" stroke="#787878" stroke-width="1.3" />
<line x1="204.3" y1="1709.2" x2="215.9" y2="1709.2" stroke="#222" stroke-width="2" />
<line x1="204.3" y1="1722.7" x2="215.9" y2="1722.7" stroke="#787878" stroke-width="1.3" />
<line x1="204.3" y1="1746.3" x2="215.9" y2="1746.3" stroke="#787878" stroke-width="1.3" />
<line x1="739" y1="1449.2" x2="739" y2="1469.1" stroke="#a6a6a6" stroke-width="1.3" />
<line x1="739" y1="1469.1" x2="739" y2="1710.5" stroke="#404040" stroke-width="1.8" />
<line x1="733.2" y1="1449.2" x2="744.8" y2="1449.2" stroke="#a6a6a6" stroke-width="1.3" />
<line x1="733.2" y1="1469.1" x2="744.8" y2="1469.1" stroke="#404040" stroke-width="2" />
<line x1="733.2" y1="1474.1" x2="744.8" y2="1474.1" stroke="#787878" stroke-width="1.3" />
<line x1="733.2" y1="1524.4" x2="744.8" y2="1524.4" stroke="#404040" stroke-width="1.3" />
<line x1="733.2" y1="1548.3" x2="744.8" y2="1548.3" stroke="#404040" stroke-width="1.3" />
<line x1="733.2" y1="1679.2" x2="744.8" y2="1679.2" stroke="#404040" stroke-width="1.3" />
<line x1="733.2" y1="1686" x2="744.8" y2="1686" stroke="#404040" stroke-width="2" />
<line x1="733.2" y1="1695.5" x2="744.8" y2="1695.5" stroke="#787878" stroke-width="1.3" />
<line x1="733.2" y1="1702.3" x2="744.8" y2="1702.3" stroke="#404040" stroke-width="1.3" />
<line x1="733.2" y1="1708.8" x2="744.8" y2="1708.8" stroke="#787878" stroke-width="1.3" />
<line x1="733.2" y1="1710.5" x2="744.8" y2="1710.5" stroke="#787878" stroke-width="1.3" />
<line x1="814.4" y1="1451.5" x2="814.4" y2="1809.9" stroke="#404040" stroke-width="1.2" />
<line x1="808.6" y1="1451.5" x2="820.2" y2="1451.5" stroke="#787878" stroke-width="1.3" />
<line x1="808.6" y1="1477" x2="820.2" y2="1477" stroke="#787878" stroke-width="1.3" />
<line x1="808.6" y1="1527.3" x2="820.2" y2="1527.3" stroke="#404040" stroke-width="1.3" />
<line x1="808.6" y1="1535.2" x2="820.2" y2="1535.2" stroke="#787878" stroke-width="1.3" />
<line x1="808.6" y1="1679.2" x2="820.2" y2="1679.2" stroke="#404040" stroke-width="1.3" />
<line x1="808.6" y1="1694.5" x2="820.2" y2="1694.5" stroke="#787878" stroke-width="1.8" />
<line x1="808.6" y1="1699.3" x2="820.2" y2="1699.3" stroke="#404040" stroke-width="1.3" />
<line x1="808.6" y1="1708.8" x2="820.2" y2="1708.8" stroke="#787878" stroke-width="1.3" />
<line x1="808.6" y1="1809.9" x2="820.2" y2="1809.9" stroke="#595959" stroke-width="1.8" />
<line x1="890" y1="1460" x2="890" y2="1710.5" stroke="#404040" stroke-width="1.8" />
<line x1="884.2" y1="1459.7" x2="895.8" y2="1459.7" stroke="#404040" stroke-width="1.6" />
<line x1="884.2" y1="1461.1" x2="895.8" y2="1461.1" stroke="#404040" stroke-width="1.6" />
<line x1="884.2" y1="1480.5" x2="895.8" y2="1480.5" stroke="#404040" stroke-width="1.3" />
<line x1="884.2" y1="1528.6" x2="895.8" y2="1528.6" stroke="#a6a6a6" stroke-width="1.3" />
<line x1="884.2" y1="1538.4" x2="895.8" y2="1538.4" stroke="#404040" stroke-width="1.3" />
<line x1="884.2" y1="1690.2" x2="895.8" y2="1690.2" stroke="#404040" stroke-width="1.3" />
<line x1="884.2" y1="1695.5" x2="895.8" y2="1695.5" stroke="#a6a6a6" stroke-width="1.3" />
<line x1="884.2" y1="1697.4" x2="895.8" y2="1697.4" stroke="#787878" stroke-width="1.3" />
<line x1="884.2" y1="1704.2" x2="895.8" y2="1704.2" stroke="#404040" stroke-width="1.3" />
<line x1="884.2" y1="1706.8" x2="895.8" y2="1706.8" stroke="#404040" stroke-width="1.6" />
<line x1="884.2" y1="1710.5" x2="895.8" y2="1710.5" stroke="#a6a6a6" stroke-width="1.3" />
<line x1="105.56" y1="1570.4" x2="1038.8" y2="1570.4" stroke="#000" stroke-width="5.5" stroke-linecap="round" stroke-dasharray="17.6 22.89" stroke-dashoffset="0"/>
</g>
<rect x="202.4" y="1506.5" width="15.4" height="15.4" fill="none" stroke="#000" stroke-width="1.7"/>
<rect x="201.5" y="1526" width="17.2" height="17.2" fill="#000" stroke="#000" stroke-width="0.5"/>
<circle cx="210.1" cy="1486.3" r="10.4" fill="#ff7c80"/>
<path d="M210.1 1500.75L220.35 1511L210.1 1521.25L199.85 1511Z" fill="#993300" stroke="#404040" stroke-width="2.6"/>
<path d="M210.1 1527.4L219.1 1545.4L201.1 1545.4Z" fill="#000" stroke="#000" stroke-width="1"/>
<path d="M210.1 1500L219.4 1518.6L200.8 1518.6Z" fill="none" stroke="#000" stroke-width="2.3"/>
<rect x="731.3" y="1571.3" width="15.4" height="15.4" fill="none" stroke="#000" stroke-width="1.7"/>
<rect x="730.4" y="1613.2" width="17.2" height="17.2" fill="#000" stroke="#000" stroke-width="0.5"/>
<circle cx="739" cy="1577.5" r="10.4" fill="#ff7c80"/>
<path d="M739 1614.05L749.25 1624.3L739 1634.55L728.75 1624.3Z" fill="#993300" stroke="#404040" stroke-width="2.6"/>
<path d="M739 1609L748 1627L730 1627Z" fill="#000" stroke="#000" stroke-width="1"/>
<path d="M739 1578.4L748.3 1597L729.7 1597Z" fill="none" stroke="#000" stroke-width="2.3"/>
<rect x="806.7" y="1567.8" width="15.4" height="15.4" fill="none" stroke="#000" stroke-width="1.7"/>
<rect x="805.8" y="1609" width="17.2" height="17.2" fill="#000" stroke="#000" stroke-width="0.5"/>
<circle cx="814.4" cy="1721.7" r="10.4" fill="#ff7c80"/>
<path d="M814.4 1616.35L824.65 1626.6L814.4 1636.85L804.15 1626.6Z" fill="#993300" stroke="#404040" stroke-width="2.6"/>
<path d="M814.4 1606.5L823.4 1624.5L805.4 1624.5Z" fill="#000" stroke="#000" stroke-width="1"/>
<path d="M814.4 1576.2L823.7 1594.8L805.1 1594.8Z" fill="none" stroke="#000" stroke-width="2.3"/>
<rect x="882.3" y="1573.8" width="15.4" height="15.4" fill="none" stroke="#000" stroke-width="1.7"/>
<rect x="881.4" y="1610.5" width="17.2" height="17.2" fill="#000" stroke="#000" stroke-width="0.5"/>
<circle cx="890" cy="1584.1" r="10.4" fill="#ff7c80"/>
<path d="M890 1624.75L900.25 1635L890 1645.25L879.75 1635Z" fill="#993300" stroke="#404040" stroke-width="2.6"/>
<path d="M890 1608L899 1626L881 1626Z" fill="#000" stroke="#000" stroke-width="1"/>
<path d="M890 1579.3L899.3 1597.9L880.7 1597.9Z" fill="none" stroke="#000" stroke-width="2.3"/>
<rect x="145.7" y="1284.4" width="863.1" height="538" fill="none" stroke="#000" stroke-width="2.4"/>
<line x1="136.7" y1="1284.4" x2="145.7" y2="1284.4" stroke="#000" stroke-width="2.2" />
<text x="62.5" y="1293.56" font-size="28.4" fill="#000" textLength="50.35" lengthAdjust="spacingAndGlyphs" >2.60</text>
<line x1="136.7" y1="1361.26" x2="145.7" y2="1361.26" stroke="#000" stroke-width="2.2" />
<text x="62.5" y="1369.99" font-size="28.4" fill="#000" textLength="50.35" lengthAdjust="spacingAndGlyphs" >2.40</text>
<line x1="136.7" y1="1438.11" x2="145.7" y2="1438.11" stroke="#000" stroke-width="2.2" />
<text x="62.5" y="1446.84" font-size="28.4" fill="#000" textLength="50.35" lengthAdjust="spacingAndGlyphs" >2.20</text>
<line x1="136.7" y1="1514.97" x2="145.7" y2="1514.97" stroke="#000" stroke-width="2.2" />
<text x="62.5" y="1523.7" font-size="28.4" fill="#000" textLength="50.35" lengthAdjust="spacingAndGlyphs" >2.00</text>
<line x1="136.7" y1="1591.83" x2="145.7" y2="1591.83" stroke="#000" stroke-width="2.2" />
<text x="62.5" y="1600.98" font-size="28.4" fill="#000" textLength="50.35" lengthAdjust="spacingAndGlyphs" >1.80</text>
<line x1="136.7" y1="1668.69" x2="145.7" y2="1668.69" stroke="#000" stroke-width="2.2" />
<text x="62.5" y="1677.84" font-size="28.4" fill="#000" textLength="50.35" lengthAdjust="spacingAndGlyphs" >1.60</text>
<line x1="136.7" y1="1745.54" x2="145.7" y2="1745.54" stroke="#000" stroke-width="2.2" />
<text x="62.5" y="1754.27" font-size="28.4" fill="#000" textLength="50.35" lengthAdjust="spacingAndGlyphs" >1.40</text>
<line x1="136.7" y1="1822.4" x2="145.7" y2="1822.4" stroke="#000" stroke-width="2.2" />
<text x="62.5" y="1831.13" font-size="28.4" fill="#000" textLength="50.35" lengthAdjust="spacingAndGlyphs" >1.20</text>
<line x1="145.7" y1="1822.4" x2="145.7" y2="1831.4" stroke="#000" stroke-width="2.2" />
<text x="138.57" y="1868.1" font-size="28.5" fill="#000" textLength="14.45" lengthAdjust="spacingAndGlyphs" >0</text>
<line x1="253.59" y1="1822.4" x2="253.59" y2="1831.4" stroke="#000" stroke-width="2.2" />
<text x="238.2" y="1868.1" font-size="28.5" fill="#000" textLength="28.89" lengthAdjust="spacingAndGlyphs" >10</text>
<line x1="361.47" y1="1822.4" x2="361.47" y2="1831.4" stroke="#000" stroke-width="2.2" />
<text x="346.8" y="1868.1" font-size="28.5" fill="#000" textLength="28.89" lengthAdjust="spacingAndGlyphs" >20</text>
<line x1="469.36" y1="1822.4" x2="469.36" y2="1831.4" stroke="#000" stroke-width="2.2" />
<text x="454.54" y="1868.1" font-size="28.5" fill="#000" textLength="28.89" lengthAdjust="spacingAndGlyphs" >30</text>
<line x1="577.25" y1="1822.4" x2="577.25" y2="1831.4" stroke="#000" stroke-width="2.2" />
<text x="562.86" y="1868.1" font-size="28.5" fill="#000" textLength="28.89" lengthAdjust="spacingAndGlyphs" >40</text>
<line x1="685.14" y1="1822.4" x2="685.14" y2="1831.4" stroke="#000" stroke-width="2.2" />
<text x="670.32" y="1868.1" font-size="28.5" fill="#000" textLength="28.89" lengthAdjust="spacingAndGlyphs" >50</text>
<line x1="793.02" y1="1822.4" x2="793.02" y2="1831.4" stroke="#000" stroke-width="2.2" />
<text x="778.35" y="1868.1" font-size="28.5" fill="#000" textLength="28.89" lengthAdjust="spacingAndGlyphs" >60</text>
<line x1="900.91" y1="1822.4" x2="900.91" y2="1831.4" stroke="#000" stroke-width="2.2" />
<text x="886.09" y="1868.1" font-size="28.5" fill="#000" textLength="28.89" lengthAdjust="spacingAndGlyphs" >70</text>
<line x1="1008.8" y1="1822.4" x2="1008.8" y2="1831.4" stroke="#000" stroke-width="2.2" />
<text x="994.12" y="1868.1" font-size="28.5" fill="#000" textLength="28.89" lengthAdjust="spacingAndGlyphs" >80</text>
<text x="26" y="1597.88" transform="rotate(-90 26 1597.88)" font-size="36" fill="#000" textLength="87.72" lengthAdjust="spacingAndGlyphs" >Mg/Si</text>
<text x="2.92" y="1304.2" font-size="47" fill="#000" textLength="23.39" lengthAdjust="spacingAndGlyphs" >e</text>
<clipPath id="clipf"><rect x="1209" y="1283.8" width="876.5" height="536.6"/></clipPath>
<g clip-path="url(#clipf)" stroke-linecap="butt">
<line x1="1274.8" y1="1521.7" x2="1274.8" y2="1650" stroke="#595959" stroke-width="1.9" />
<line x1="1274.8" y1="1640" x2="1274.8" y2="1802.3" stroke="#404040" stroke-width="1.6" />
<line x1="1269" y1="1521.7" x2="1280.6" y2="1521.7" stroke="#595959" stroke-width="2" />
<line x1="1269" y1="1640.4" x2="1280.6" y2="1640.4" stroke="#000" stroke-width="1" />
<line x1="1269" y1="1734.4" x2="1280.6" y2="1734.4" stroke="#404040" stroke-width="1.3" />
<line x1="1269" y1="1743.4" x2="1280.6" y2="1743.4" stroke="#404040" stroke-width="1.3" />
<line x1="1269" y1="1747.5" x2="1280.6" y2="1747.5" stroke="#a6a6a6" stroke-width="1.3" />
<line x1="1269" y1="1750.4" x2="1280.6" y2="1750.4" stroke="#a6a6a6" stroke-width="1.3" />
<line x1="1269" y1="1790.8" x2="1280.6" y2="1790.8" stroke="#a6a6a6" stroke-width="1.3" />
<line x1="1269" y1="1792.3" x2="1280.6" y2="1792.3" stroke="#a6a6a6" stroke-width="1.3" />
<line x1="1269" y1="1798.7" x2="1280.6" y2="1798.7" stroke="#787878" stroke-width="1.3" />
<line x1="1269" y1="1802.3" x2="1280.6" y2="1802.3" stroke="#404040" stroke-width="2" />
<line x1="1811.3" y1="1392.3" x2="1811.3" y2="1676" stroke="#333" stroke-width="1.2" />
<line x1="1811.3" y1="1676" x2="1811.3" y2="1687.7" stroke="#787878" stroke-width="1.2" />
<line x1="1805.5" y1="1392.3" x2="1817.1" y2="1392.3" stroke="#333" stroke-width="1.3" />
<line x1="1805.5" y1="1599.4" x2="1817.1" y2="1599.4" stroke="#404040" stroke-width="1.6" />
<line x1="1805.5" y1="1658.8" x2="1817.1" y2="1658.8" stroke="#787878" stroke-width="1.3" />
<line x1="1805.5" y1="1675.5" x2="1817.1" y2="1675.5" stroke="#787878" stroke-width="1.3" />
<line x1="1805.5" y1="1687.7" x2="1817.1" y2="1687.7" stroke="#787878" stroke-width="1.3" />
<line x1="1887.9" y1="1321.3" x2="1887.9" y2="1748.7" stroke="#787878" stroke-width="1.3" />
<line x1="1882.1" y1="1321.3" x2="1893.7" y2="1321.3" stroke="#333" stroke-width="1.5" />
<line x1="1882.1" y1="1601.5" x2="1893.7" y2="1601.5" stroke="#787878" stroke-width="1.3" />
<line x1="1882.1" y1="1622.5" x2="1893.7" y2="1622.5" stroke="#404040" stroke-width="1.6" />
<line x1="1882.1" y1="1704.3" x2="1893.7" y2="1704.3" stroke="#404040" stroke-width="1.8" />
<line x1="1882.1" y1="1748.7" x2="1893.7" y2="1748.7" stroke="#787878" stroke-width="1.3" />
<line x1="1964.5" y1="1617.1" x2="1964.5" y2="1739.4" stroke="#404040" stroke-width="1.3" />
<line x1="1964.5" y1="1796" x2="1964.5" y2="1817.8" stroke="#a6a6a6" stroke-width="1.3" />
<line x1="1958.7" y1="1617.1" x2="1970.3" y2="1617.1" stroke="#404040" stroke-width="2" />
<line x1="1958.7" y1="1630.4" x2="1970.3" y2="1630.4" stroke="#404040" stroke-width="2" />
<line x1="1958.7" y1="1739.4" x2="1970.3" y2="1739.4" stroke="#404040" stroke-width="1.3" />
<line x1="1958.7" y1="1817.8" x2="1970.3" y2="1817.8" stroke="#a6a6a6" stroke-width="1.3" />
</g>
<rect x="1266.95" y="1772.75" width="15.7" height="15.7" fill="#000" stroke="#000" stroke-width="2"/>
<rect x="1266" y="1762.7" width="17.6" height="17.6" fill="#000" stroke="#000" stroke-width="0.5"/>
<circle cx="1274.8" cy="1662.2" r="10.5" fill="#ff7c80"/>
<path d="M1274.8 1677.25L1285.05 1687.5L1274.8 1697.75L1264.55 1687.5Z" fill="#993300" stroke="#404040" stroke-width="3"/>
<path d="M1274.8 1755L1285 1775.4L1264.6 1775.4Z" fill="#000" stroke="#000" stroke-width="1"/>
<path d="M1274.8 1758.2L1284.1 1776.8L1265.5 1776.8Z" fill="none" stroke="#000" stroke-width="2.5"/>
<rect x="1803.45" y="1797.35" width="15.7" height="15.7" fill="none" stroke="#000" stroke-width="2"/>
<rect x="1802.5" y="1777.7" width="17.6" height="17.6" fill="#000" stroke="#000" stroke-width="0.5"/>
<circle cx="1811.3" cy="1629.6" r="10.5" fill="#ff7c80"/>
<path d="M1811.3 1524.05L1821.55 1534.3L1811.3 1544.55L1801.05 1534.3Z" fill="#993300" stroke="#404040" stroke-width="3"/>
<path d="M1811.3 1775.35L1820.95 1794.65L1801.65 1794.65Z" fill="#000" stroke="#000" stroke-width="1"/>
<path d="M1811.3 1646.9L1820.6 1665.5L1802 1665.5Z" fill="none" stroke="#000" stroke-width="2.5"/>
<rect x="1880.05" y="1802.65" width="15.7" height="15.7" fill="none" stroke="#000" stroke-width="2"/>
<rect x="1879.1" y="1784.9" width="17.6" height="17.6" fill="#000" stroke="#000" stroke-width="0.5"/>
<circle cx="1887.9" cy="1664.1" r="10.5" fill="#ff7c80"/>
<path d="M1887.9 1524.75L1898.15 1535L1887.9 1545.25L1877.65 1535Z" fill="#993300" stroke="#404040" stroke-width="3"/>
<path d="M1887.9 1783.85L1897.55 1803.15L1878.25 1803.15Z" fill="#000" stroke="#000" stroke-width="1"/>
<path d="M1887.9 1622.1L1897.2 1640.7L1878.6 1640.7Z" fill="none" stroke="#000" stroke-width="2.5"/>
<rect x="1956.65" y="1798.65" width="15.7" height="15.7" fill="none" stroke="#000" stroke-width="2"/>
<rect x="1955.7" y="1789.2" width="17.6" height="17.6" fill="#000" stroke="#000" stroke-width="0.5"/>
<circle cx="1964.5" cy="1643.7" r="10.5" fill="#ff7c80"/>
<path d="M1964.5 1675.05L1974.75 1685.3L1964.5 1695.55L1954.25 1685.3Z" fill="#993300" stroke="#404040" stroke-width="3"/>
<path d="M1964.5 1788.35L1974.15 1807.65L1954.85 1807.65Z" fill="#000" stroke="#000" stroke-width="1"/>
<path d="M1964.5 1650.7L1973.8 1669.3L1955.2 1669.3Z" fill="none" stroke="#000" stroke-width="2.5"/>
<rect x="1209" y="1283.8" width="876.5" height="536.6" fill="none" stroke="#000" stroke-width="2.4"/>
<line x1="1200" y1="1283.8" x2="1209" y2="1283.8" stroke="#000" stroke-width="2.2" />
<text x="1126.15" y="1293.34" font-size="31.2" fill="#000" textLength="55.32" lengthAdjust="spacingAndGlyphs" >0.05</text>
<line x1="1200" y1="1391.12" x2="1209" y2="1391.12" stroke="#000" stroke-width="2.2" />
<text x="1124.59" y="1400.66" font-size="31.2" fill="#000" textLength="55.32" lengthAdjust="spacingAndGlyphs" >0.04</text>
<line x1="1200" y1="1498.44" x2="1209" y2="1498.44" stroke="#000" stroke-width="2.2" />
<text x="1125.52" y="1507.98" font-size="31.2" fill="#000" textLength="55.32" lengthAdjust="spacingAndGlyphs" >0.03</text>
<line x1="1200" y1="1605.76" x2="1209" y2="1605.76" stroke="#000" stroke-width="2.2" />
<text x="1125.52" y="1615.3" font-size="31.2" fill="#000" textLength="55.32" lengthAdjust="spacingAndGlyphs" >0.02</text>
<line x1="1200" y1="1713.08" x2="1209" y2="1713.08" stroke="#000" stroke-width="2.2" />
<text x="1125.52" y="1722.62" font-size="31.2" fill="#000" textLength="55.32" lengthAdjust="spacingAndGlyphs" >0.01</text>
<line x1="1200" y1="1820.4" x2="1209" y2="1820.4" stroke="#000" stroke-width="2.2" />
<text x="1124.9" y="1829.94" font-size="31.2" fill="#000" textLength="55.32" lengthAdjust="spacingAndGlyphs" >0.00</text>
<line x1="1209" y1="1820.4" x2="1209" y2="1829.4" stroke="#000" stroke-width="2.2" />
<text x="1201.2" y="1870.1" font-size="31.2" fill="#333" textLength="15.81" lengthAdjust="spacingAndGlyphs" >0</text>
<line x1="1318.56" y1="1820.4" x2="1318.56" y2="1829.4" stroke="#000" stroke-width="2.2" />
<text x="1301.71" y="1870.1" font-size="31.2" fill="#333" textLength="31.63" lengthAdjust="spacingAndGlyphs" >10</text>
<line x1="1428.12" y1="1820.4" x2="1428.12" y2="1829.4" stroke="#000" stroke-width="2.2" />
<text x="1412.06" y="1870.1" font-size="31.2" fill="#333" textLength="31.63" lengthAdjust="spacingAndGlyphs" >20</text>
<line x1="1537.69" y1="1820.4" x2="1537.69" y2="1829.4" stroke="#000" stroke-width="2.2" />
<text x="1521.46" y="1870.1" font-size="31.2" fill="#333" textLength="31.63" lengthAdjust="spacingAndGlyphs" >30</text>
<line x1="1647.25" y1="1820.4" x2="1647.25" y2="1829.4" stroke="#000" stroke-width="2.2" />
<text x="1631.49" y="1870.1" font-size="31.2" fill="#333" textLength="31.63" lengthAdjust="spacingAndGlyphs" >40</text>
<line x1="1756.81" y1="1820.4" x2="1756.81" y2="1829.4" stroke="#000" stroke-width="2.2" />
<text x="1740.59" y="1870.1" font-size="31.2" fill="#333" textLength="31.63" lengthAdjust="spacingAndGlyphs" >50</text>
<line x1="1866.38" y1="1820.4" x2="1866.38" y2="1829.4" stroke="#000" stroke-width="2.2" />
<text x="1850.31" y="1870.1" font-size="31.2" fill="#333" textLength="31.63" lengthAdjust="spacingAndGlyphs" >60</text>
<line x1="1975.94" y1="1820.4" x2="1975.94" y2="1829.4" stroke="#000" stroke-width="2.2" />
<text x="1959.71" y="1870.1" font-size="31.2" fill="#333" textLength="31.63" lengthAdjust="spacingAndGlyphs" >70</text>
<line x1="2085.5" y1="1820.4" x2="2085.5" y2="1829.4" stroke="#000" stroke-width="2.2" />
<text x="2069.43" y="1870.1" font-size="31.2" fill="#333" textLength="31.63" lengthAdjust="spacingAndGlyphs" >80</text>
<text x="1092.9" y="1605.64" transform="rotate(-90 1092.9 1605.64)" font-size="36" fill="#000" textLength="72.64" lengthAdjust="spacingAndGlyphs" >Fe/Si</text>
<text x="1088.73" y="1300.5" font-size="47" fill="#000" textLength="14.35" lengthAdjust="spacingAndGlyphs" >f</text>
<rect x="345.9" y="386.3" width="17.8" height="17.8" fill="none" stroke="#000" stroke-width="1.6"/>
<rect x="622.5" y="385.9" width="18.2" height="18.2" fill="#000" stroke="#000" stroke-width="0.3"/>
<circle cx="354.8" cy="444.8" r="8.95" fill="#ff9966" stroke="#000" stroke-width="1.6"/>
<path d="M632.2 436.8L640.8 445.4L632.2 454L623.6 445.4Z" fill="#993300" stroke="#000" stroke-width="1.6"/>
<path d="M355 484.8L364.5 503.8L345.5 503.8Z" fill="#000" stroke="#000" stroke-width="0.5"/>
<path d="M631.9 485.85L640.05 502.15L623.75 502.15Z" fill="#fff" stroke="#000" stroke-width="2"/>
<text x="386.1" y="404.3" font-size="28.2" fill="#000" textLength="80.32" lengthAdjust="spacingAndGlyphs" >Abiotic</text>
<text x="667.32" y="404.2" font-size="28.2" fill="#000" textLength="89.43" lengthAdjust="spacingAndGlyphs" >WT:A95</text>
<text x="385.82" y="454.5" font-size="28.2" fill="#000" textLength="68.24" lengthAdjust="spacingAndGlyphs" >Δ<tspan font-style="italic">pks1</tspan></text>
<text x="667.72" y="454.8" font-size="28.2" fill="#000" textLength="70.19" lengthAdjust="spacingAndGlyphs" >Δ<tspan font-style="italic">sdh1</tspan></text>
<text x="385.82" y="505" font-size="28.2" fill="#000" textLength="73.71" lengthAdjust="spacingAndGlyphs" >Δ<tspan font-style="italic">phd1</tspan></text>
<text x="667.72" y="504.8" font-size="28.2" fill="#000" textLength="152.85" lengthAdjust="spacingAndGlyphs" >Δ<tspan font-style="italic">pks1</tspan>/Δ<tspan font-style="italic">phd1</tspan></text>
<text x="495.77" y="1917.2" font-size="36" fill="#000" textLength="162.5" lengthAdjust="spacingAndGlyphs" >time (days)</text>
<text x="1565.72" y="1919.6" font-size="36" fill="#000" textLength="162.5" lengthAdjust="spacingAndGlyphs" >time (days)</text>
</svg></body></html>
